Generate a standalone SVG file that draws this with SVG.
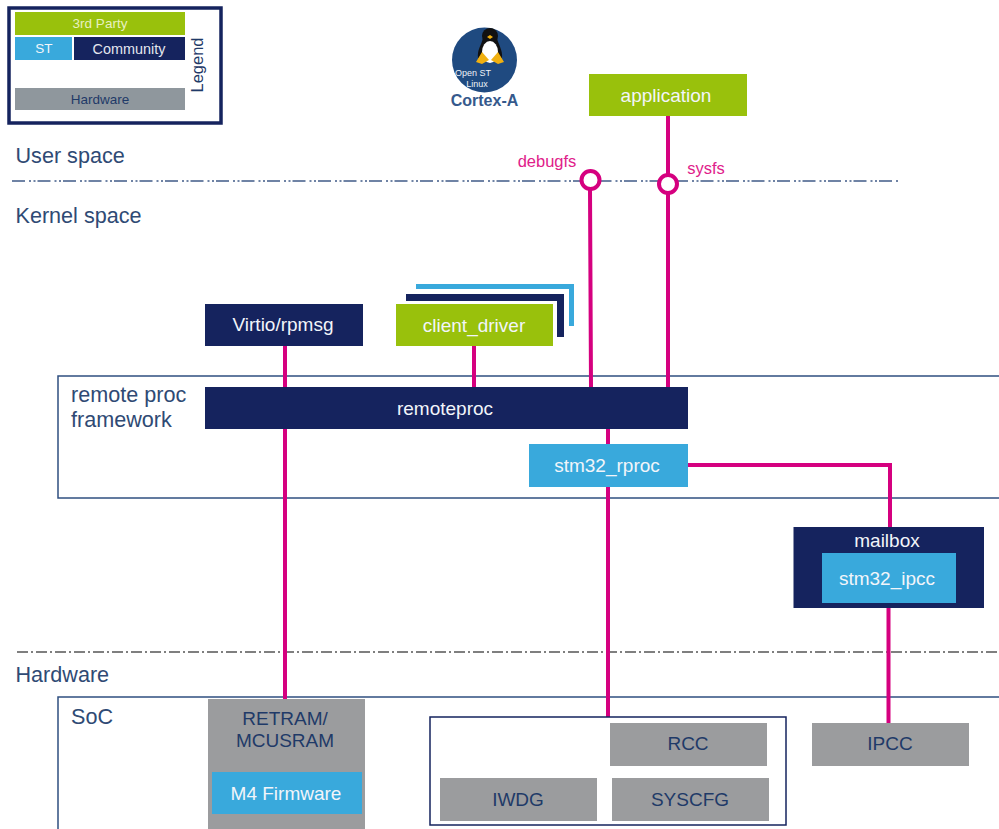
<svg xmlns="http://www.w3.org/2000/svg" width="999" height="829" viewBox="0 0 999 829">
<style>
text{font-family:"Liberation Sans",Arial,sans-serif;text-anchor:middle}
.w{fill:#f2f5fa;font-size:19px}
.n{fill:#1f3a68;font-size:19px}
.h{fill:#2f4a74;font-size:21.600px;text-anchor:start}
.g{fill:#99c10c}.b{fill:#39a9dc}.d{fill:#15235e}.y{fill:#9b9c9e}
.c{stroke:#d5007f;stroke-width:4;fill:none}
.f{fill:none;stroke:#2f4f80;stroke-width:1.500}
.t{fill:#e0208a;font-size:16.500px}
</style>
<rect width="999" height="829" fill="#fff"/>
<g id="frames">
<rect class="f" x="58" y="376" width="960" height="122"/>
<rect class="f" x="58" y="697" width="960" height="150"/>
</g>
<g id="boundaries" fill="none">
<line x1="12" y1="181" x2="898" y2="181" stroke="#6f83a5" stroke-width="2" stroke-dasharray="13 4 2 2.500 2 2"/>
<line x1="17" y1="652" x2="999" y2="652" stroke="#555" stroke-width="1.500" stroke-dasharray="11 3 2 3"/>
</g>
<g id="legend">
<rect x="9" y="8" width="212" height="115" fill="#fff" stroke="#15235e" stroke-width="3.500"/>
<rect class="g" x="15" y="12" width="170" height="23"/>
<text x="100" y="28" fill="#e8f0c0" font-size="13.500">3rd Party</text>
<rect class="b" x="15" y="37" width="57" height="23"/>
<text x="44" y="53" fill="#f2f5fa" font-size="13.500">ST</text>
<rect class="d" x="74" y="37" width="111" height="23"/>
<text x="129" y="54" fill="#e4e6ee" font-size="14.400">Community</text>
<rect x="15" y="88" width="170" height="22" fill="#8f979d"/>
<text x="100" y="104" fill="#1f3a68" font-size="13.500">Hardware</text>
<text transform="translate(203 65) rotate(-90)" fill="#1f3a68" font-size="16.500">Legend</text>
</g>
<g id="cortex-a">
<circle cx="484.500" cy="60" r="32.500" fill="#1f4a80"/>
<circle cx="490" cy="36" r="8" fill="#111"/>
<path d="M483 38C481 46 477 50 478 58L502 58C503 50 498 44 497 38z" fill="#111"/>
<ellipse cx="490" cy="52" rx="8" ry="11" fill="#fff"/>
<path d="M476 62L482 52 489 60 482 64z M504 62L498 52 491 60 498 64z" fill="#f0b010"/>
<path d="M487 37l3-2 3 2-3 2z" fill="#f0b010"/>
<text x="473" y="76" fill="#eef2f8" font-size="9">Open ST</text>
<text x="477" y="87" fill="#eef2f8" font-size="9">Linux</text>
<text x="484.500" y="106" fill="#35598c" font-size="16" font-weight="bold">Cortex-A</text>
</g>
<g id="connectors">
<path class="c" d="M668 115V175M668 193V387M590 190L591 387M285 346V388M285 429V702M474 346V387M608 429V444M608 487V717M688 465H890V527M888.500 601V724"/>
<circle cx="590.500" cy="180" r="9" fill="#fff" stroke="#d5007f" stroke-width="4"/>
<circle cx="668" cy="184" r="9" fill="#fff" stroke="#d5007f" stroke-width="4"/>
</g>
<g id="labels">
<text class="h" x="15.500" y="163">User space</text>
<text class="h" x="15.500" y="223">Kernel space</text>
<text class="h" x="15.500" y="682">Hardware</text>
<text class="h" x="71" y="402">remote proc</text>
<text class="h" x="71" y="427">framework</text>
<text class="h" x="71" y="724">SoC</text>
<text class="t" x="547" y="167">debugfs</text>
<text class="t" x="706" y="174">sysfs</text>
</g>
<g id="application"><rect class="g" x="589" y="74" width="158" height="42"/><text class="w" x="666" y="102">application</text></g>
<g id="virtio-rpmsg"><rect class="d" x="205" y="304" width="158" height="42"/><text class="w" x="283" y="331">Virtio/rpmsg</text></g>
<g id="client-driver">
<path class="b" d="M416 284H574V326H569V289H416z"/>
<path class="d" d="M406 294H564V337H557V301H406z"/>
<rect class="g" x="396" y="304" width="157" height="42"/>
<text class="w" x="474" y="332">client_driver</text>
</g>
<g id="remoteproc"><rect class="d" x="205" y="387" width="483" height="42"/><text class="w" x="445" y="415">remoteproc</text></g>
<g id="stm32-rproc"><rect class="b" x="529" y="444" width="159" height="43"/><text class="w" x="607" y="472">stm32_rproc</text></g>
<g id="mailbox">
<rect class="d" x="793.500" y="527" width="190.500" height="81"/>
<text class="w" x="887" y="547">mailbox</text>
<rect class="b" x="822" y="553" width="134" height="50"/>
<text class="w" x="887" y="585">stm32_ipcc</text>
</g>
<g id="retram">
<rect class="y" x="208" y="699" width="157" height="130"/>
<text class="n" x="285" y="725">RETRAM/</text>
<text class="n" x="285" y="747">MCUSRAM</text>
<rect class="b" x="212" y="772" width="150" height="42"/>
<text class="w" x="286" y="800">M4 Firmware</text>
</g>
<g id="rcc-group"><rect x="430" y="717" width="356" height="108" fill="#fff" stroke="#15235e" stroke-width="1.500"/></g>
<g id="rcc"><rect class="y" x="610" y="723" width="157" height="43"/><text class="n" x="688" y="750">RCC</text></g>
<g id="iwdg"><rect class="y" x="440" y="778" width="157" height="43"/><text class="n" x="518" y="806">IWDG</text></g>
<g id="syscfg"><rect class="y" x="612" y="778" width="157" height="43"/><text class="n" x="690" y="806">SYSCFG</text></g>
<g id="ipcc"><rect class="y" x="812" y="723" width="157" height="43"/><text class="n" x="890" y="750">IPCC</text></g>
</svg>
